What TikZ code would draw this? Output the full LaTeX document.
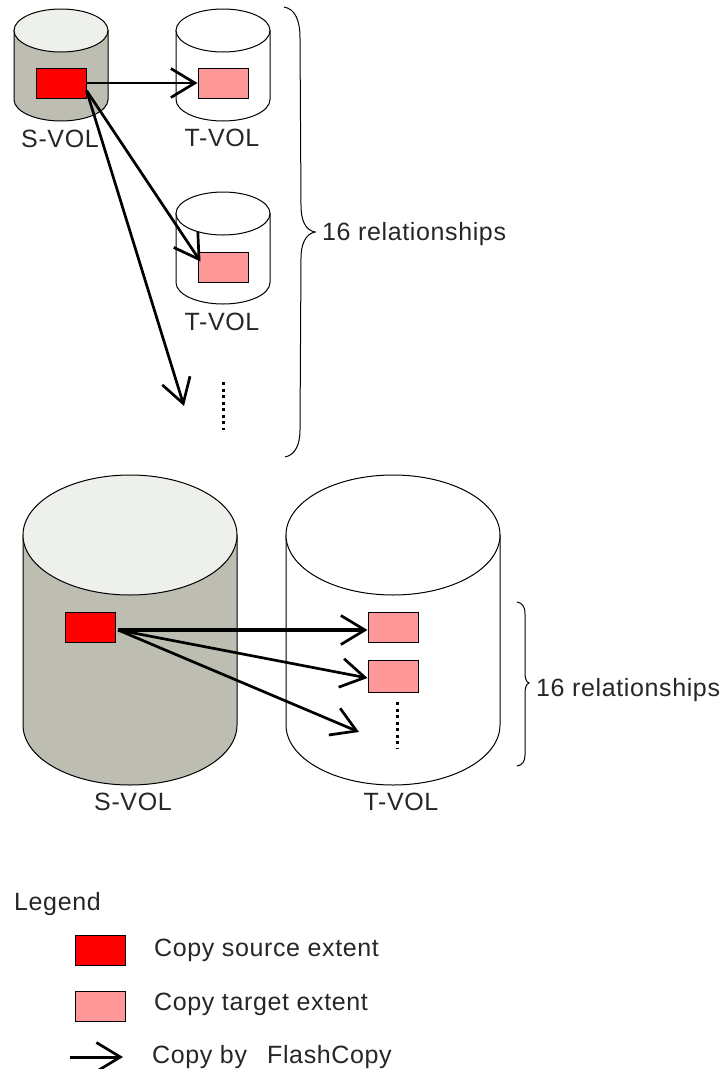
\documentclass[tikz,border=0pt]{standalone}
\usepackage{fontspec}
\setmainfont[LetterSpace=2.5]{Liberation Sans}
\usetikzlibrary{arrows.meta}

\begin{document}
\begin{tikzpicture}
[x=1pt,y=-1pt]
\tikzset{
	extent/.style = {rectangle, draw, line width=1pt, inner sep=0, minimum width=50pt, minimum height=30pt},
	srcext/.style = {extent, fill=red},
	tgtext/.style = {extent, fill=extpink},
	txt/.style = {font=\fontsize{25}{25}\selectfont, text=black!85, inner sep=0},
	copyarrow/.style = {-{Straight Barb[length=24pt,width=29pt,line width=2.7pt]}, line width=2.7pt},
	dots/.style = {line width=3pt, dash pattern=on 3pt off 3.5pt},
	brace/.style = {line width=1pt}
}
\definecolor{volgray}{RGB}{189,189,178}
\definecolor{volend}{RGB}{238,240,235}
\definecolor{extpink}{RGB}{255,153,153}

\useasboundingbox (0,0) rectangle (724,1069);

% volumes: centre x, top y, bottom y, radii, colours
\foreach \cx/\ytop/\ybot/\rx/\ry/\body/\lid in {
	61/30.5/99.5/47/21.5/volgray/volend,
	223/30.5/99.5/47/21.5/white/white,
	223/213.5/282.5/47/21.5/white/white,
	130/535/725/107/60/volgray/volend,
	393/535/725/107/60/white/white}{
	\draw [fill=\body,line width=1pt] (\cx-\rx,\ytop) -- (\cx-\rx,\ybot)
		arc [start angle=180, end angle=360, x radius=\rx pt, y radius=\ry pt] -- (\cx+\rx,\ytop) -- cycle;
	\draw [fill=\lid,line width=1pt] (\cx,\ytop) ellipse [x radius=\rx pt, y radius=\ry pt];
}

% upper part
\node (src1) [srcext] at (61,83) {};
\node (tgt1) [tgtext] at (223,83) {};
\node (tgt2) [tgtext] at (223,267) {};
\node (s1l) [txt] at (60,139) {S-VOL};
\node (t1l) [txt] at (222,138) {T-VOL};
\node (t2l) [txt] at (222,322) {T-VOL};
\coordinate (more1) at (184,406);
\coordinate (dot1a) at (223,382);
\coordinate (dot1b) at (223,430);

\draw [copyarrow,line width=1.2pt] (src1.east) -- (tgt1.west);
\draw [copyarrow] ([yshift=8pt]src1.south east) -- ([xshift=3pt,yshift=-10pt]tgt2.north west);
\draw [copyarrow] ([yshift=8pt]src1.south east) -- (more1);
\draw [dots] (dot1a) -- (dot1b);

\coordinate (br1a) at (284,7);
\coordinate (br1t) at (315,232);
\coordinate (br1b) at (285,457);
\draw [brace] (br1a) .. controls (295,9) and (300,20) .. (300,38) -- (301,205)
	.. controls (301,220) and (305,230) .. (br1t)
	.. controls (305,234) and (301,245) .. (301,258) -- (300,430)
	.. controls (300,445) and (295,455) .. (br1b);
\node (rel1) [txt,anchor=west] at (322,234) {16 relationships};

% lower part
\node (src2) [srcext] at (90.5,627) {};
\node (tgt3) [tgtext] at (393,627) {};
\node (tgt4) [tgtext,minimum height=32pt] at (393,676) {};
\node (s2l) [txt] at (133,802) {S-VOL};
\node (t3l) [txt] at (401,802) {T-VOL};
\coordinate (more2) at (359,732);
\coordinate (dot2a) at (397,702);
\coordinate (dot2b) at (397,749);

\draw [copyarrow,line width=3.2pt] ([xshift=2pt,yshift=-3pt]src2.east) -- ([yshift=-3pt]tgt3.west);
\draw [copyarrow] ([xshift=2pt,yshift=-3pt]src2.east) -- ([yshift=-2pt]tgt4.west);
\draw [copyarrow] ([xshift=2pt,yshift=-3pt]src2.east) -- (more2);
\draw [dots] (dot2a) -- (dot2b);

\coordinate (br2a) at (517,602);
\coordinate (br2t) at (529,683);
\coordinate (br2b) at (517,766);
\draw [brace] (br2a) .. controls (522,603) and (525,606) .. (525,614) -- (525,672)
	.. controls (525,678) and (526,682) .. (br2t)
	.. controls (526,684) and (525,688) .. (525,694) -- (525,755)
	.. controls (525,762) and (522,765) .. (br2b);
\node (rel2) [txt,anchor=west] at (536,690) {16 relationships};

% legend
\node (leg) [txt,anchor=west] at (14,904) {Legend};
\node (legsrc) [srcext] at (100.5,950) {};
\node (legtgt) [tgtext] at (100.5,1006) {};
\coordinate (legar) at (70,1057);
\coordinate (legarb) at (123,1057);
\draw [copyarrow,line width=3pt] (legar) -- (legarb);
\node (legsrcl) [txt,anchor=west] at (154,950) {Copy source extent};
\node (legtgtl) [txt,anchor=west] at (154,1004) {Copy target extent};
\node (legarl) [txt,anchor=west] at (152,1057) {Copy by~ \hspace{5pt}FlashCopy};
\end{tikzpicture}
\end{document}
